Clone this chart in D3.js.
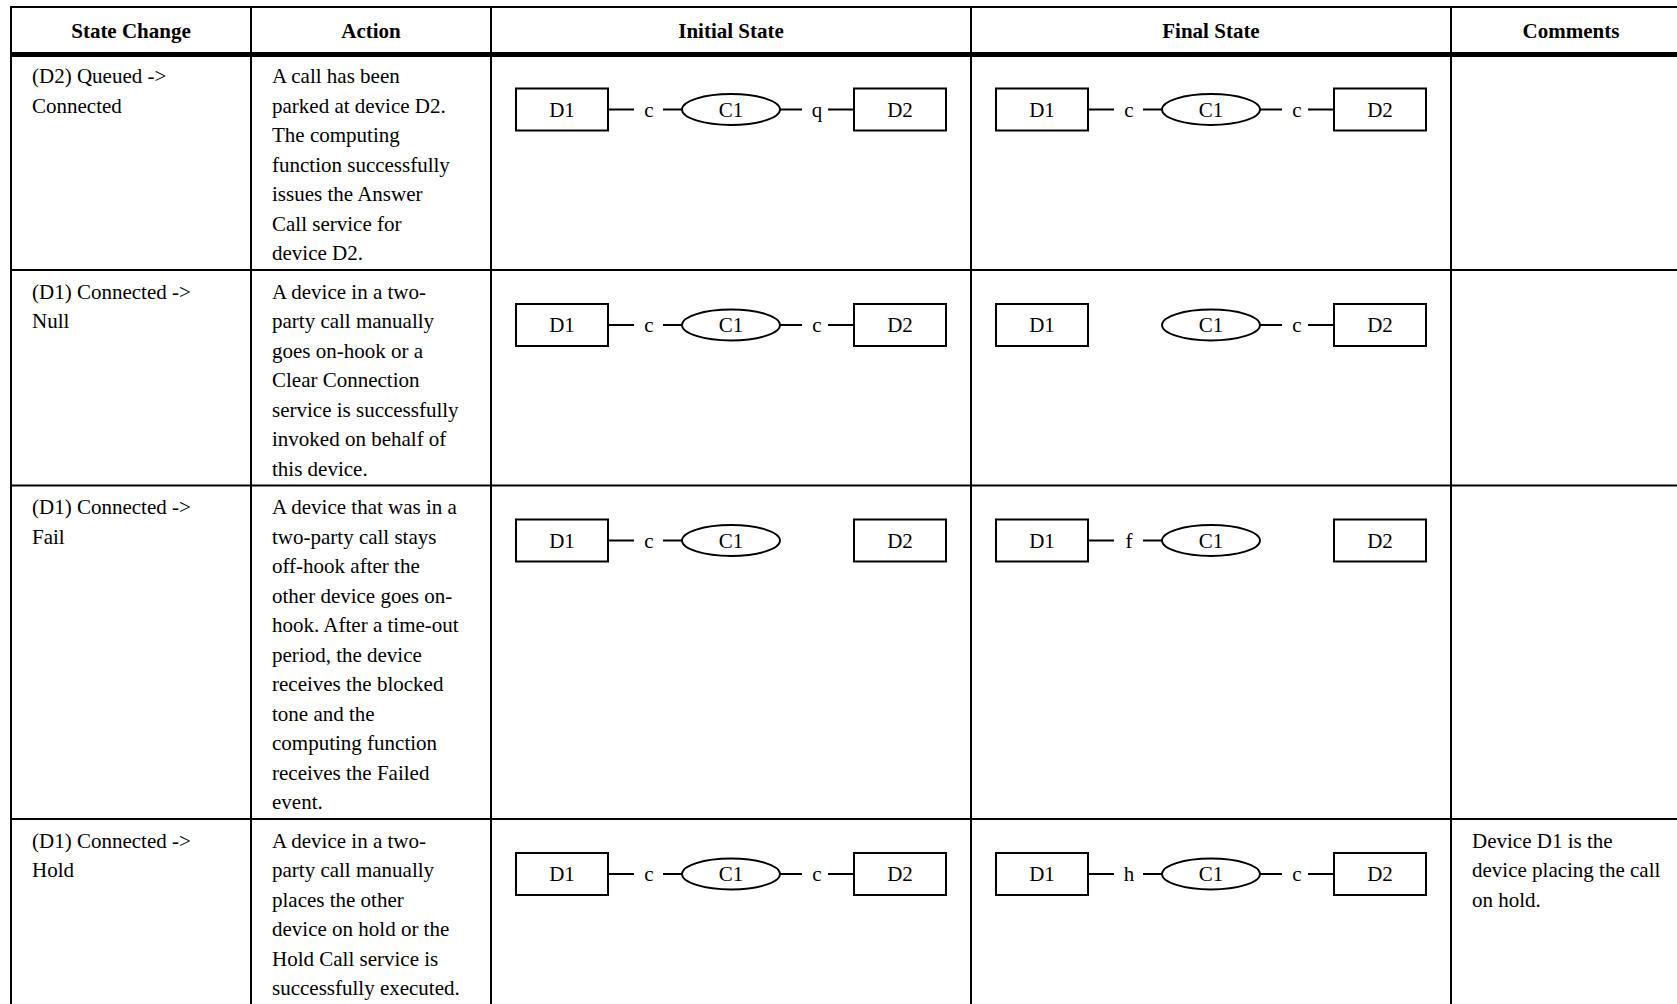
<!DOCTYPE html>
<html>
<head>
<meta charset="utf-8">
<script src="https://cdn.jsdelivr.net/npm/d3@7/dist/d3.min.js"></script>
<style>
  html, body { margin: 0; padding: 0; background: #fff; overflow: hidden; }
  svg { display: block; font-family: 'Liberation Serif', 'Times New Roman', serif; }
</style>
</head>
<body>
<svg id="chart" width="1677" height="1004"></svg>
<script>
// ---------- data ----------
const headers = ["State Change", "Action", "Initial State", "Final State", "Comments"];
const stateChanges = [
  ["(D2) Queued ->", "Connected"],
  ["(D1) Connected ->", "Null"],
  ["(D1) Connected ->", "Fail"],
  ["(D1) Connected ->", "Hold"]
];
const actions = [
  ["A call has been", "parked at device D2.", "The computing", "function successfully", "issues the Answer", "Call service for", "device D2."],
  ["A device in a two-", "party call manually", "goes on-hook or a", "Clear Connection", "service is successfully", "invoked on behalf of", "this device."],
  ["A device that was in a", "two-party call stays", "off-hook after the", "other device goes on-", "hook. After a time-out", "period, the device", "receives the blocked", "tone and the", "computing function", "receives the Failed", "event."],
  ["A device in a two-", "party call manually", "places the other", "device on hold or the", "Hold Call service is", "successfully executed."]
];
const deviceLabels = ["D1", "D2"];
const callLabel = "C1";
// connection state between D1-C1 and C1-D2 (null = no connection)
const initialLinks = [["c", "q"], ["c", "c"], ["c", null], ["c", "c"]];
const finalLinks   = [["c", "c"], [null, "c"], ["f", null], ["h", "c"]];
const comments = [
  [],
  [],
  [],
  ["Device D1 is the", "device placing the call", "on hold."]
];

// ---------- layout ----------
const FONT = "'Liberation Serif', 'Times New Roman', serif";
const svg = d3.select("#chart");
svg.append("rect").attr("width", 1677).attr("height", 1004).attr("fill", "#fff");

const colWidths = [240, 240, 480, 480, 240];
const tableLeft = 11, tableTop = 7, headerBottom = 54.5;
const lineH = 29.5, fontSize = 21, padX = 21;
const colX = [tableLeft];
colWidths.forEach(w => colX.push(colX[colX.length - 1] + w));
const tableRight = colX[colX.length - 1];

const rowTops = [headerBottom];
actions.forEach((a, i) => {
  const n = Math.max(a.length, stateChanges[i].length, comments[i].length);
  rowTops.push(rowTops[i] + n * lineH + 9);
});

const g = svg.append("g").attr("font-family", FONT).attr("fill", "#000");

g.selectAll("text.hdr").data(headers).join("text")
  .attr("class", "hdr")
  .attr("x", (d, i) => (colX[i] + colX[i + 1]) / 2)
  .attr("y", 38)
  .attr("text-anchor", "middle")
  .attr("font-family", FONT)
  .attr("font-weight", "bold")
  .attr("font-size", fontSize)
  .text(d => d);

function cellText(lines, col, row) {
  const t = g.append("text")
    .attr("font-family", FONT)
    .attr("font-size", fontSize)
    .attr("x", colX[col] + padX)
    .attr("y", rowTops[row] + 28.5);
  t.selectAll("tspan").data(lines).join("tspan")
    .attr("x", colX[col] + padX)
    .attr("dy", (d, i) => i === 0 ? 0 : lineH)
    .text(d => d);
}
stateChanges.forEach((s, r) => cellText(s, 0, r));
actions.forEach((s, r) => cellText(s, 1, r));
comments.forEach((s, r) => { if (s.length) cellText(s, 4, r); });

function label(parent, x, y, txt) {
  parent.append("text")
    .attr("x", x).attr("y", y)
    .attr("text-anchor", "middle")
    .attr("font-family", FONT)
    .attr("font-size", fontSize)
    .text(txt);
}
function hline(parent, x1, x2, y) {
  parent.append("line")
    .attr("x1", x1).attr("x2", x2).attr("y1", y).attr("y2", y)
    .attr("stroke", "#000").attr("stroke-width", 2);
}

function diagram(col, row, links) {
  const cx = (colX[col] + colX[col + 1]) / 2;
  const cy = rowTops[row] + 55;
  const dg = g.append("g");
  const boxW = 92, boxH = 42, rx = 49, ry = 15.5;
  const boxCenters = [cx - 169, cx + 169];
  boxCenters.forEach((bx, i) => {
    dg.append("rect")
      .attr("x", bx - boxW / 2).attr("y", cy - boxH / 2)
      .attr("width", boxW).attr("height", boxH)
      .attr("fill", "none").attr("stroke", "#000").attr("stroke-width", 2);
    label(dg, bx, cy + 7, deviceLabels[i]);
  });
  dg.append("ellipse")
    .attr("cx", cx).attr("cy", cy).attr("rx", rx).attr("ry", ry)
    .attr("fill", "none").attr("stroke", "#000").attr("stroke-width", 1.8);
  label(dg, cx, cy + 7, callLabel);

  const d1Edge = boxCenters[0] + boxW / 2;
  const d2Edge = boxCenters[1] - boxW / 2;
  const eL = cx - rx, eR = cx + rx;
  if (links[0]) {
    hline(dg, d1Edge, d1Edge + 26, cy);
    label(dg, d1Edge + 41, cy + 7, links[0]);
    hline(dg, d1Edge + 55, eL, cy);
  }
  if (links[1]) {
    hline(dg, eR, eR + 22, cy);
    label(dg, eR + 37, cy + 7, links[1]);
    hline(dg, eR + 48, d2Edge, cy);
  }
}
initialLinks.forEach((l, r) => diagram(2, r, l));
finalLinks.forEach((l, r) => diagram(3, r, l));

// grid lines
g.append("line").attr("x1", tableLeft - 1).attr("x2", tableRight).attr("y1", tableTop).attr("y2", tableTop)
  .attr("stroke", "#000").attr("stroke-width", 2);
g.append("line").attr("x1", tableLeft - 1).attr("x2", tableRight).attr("y1", headerBottom).attr("y2", headerBottom)
  .attr("stroke", "#000").attr("stroke-width", 5);
rowTops.slice(1).forEach(y => {
  g.append("line").attr("x1", tableLeft - 1).attr("x2", tableRight).attr("y1", y).attr("y2", y)
    .attr("stroke", "#000").attr("stroke-width", 2);
});
colX.forEach(x => {
  g.append("line").attr("x1", x).attr("x2", x).attr("y1", tableTop - 1).attr("y2", rowTops[rowTops.length - 1])
    .attr("stroke", "#000").attr("stroke-width", 2);
});
</script>
</body>
</html>
